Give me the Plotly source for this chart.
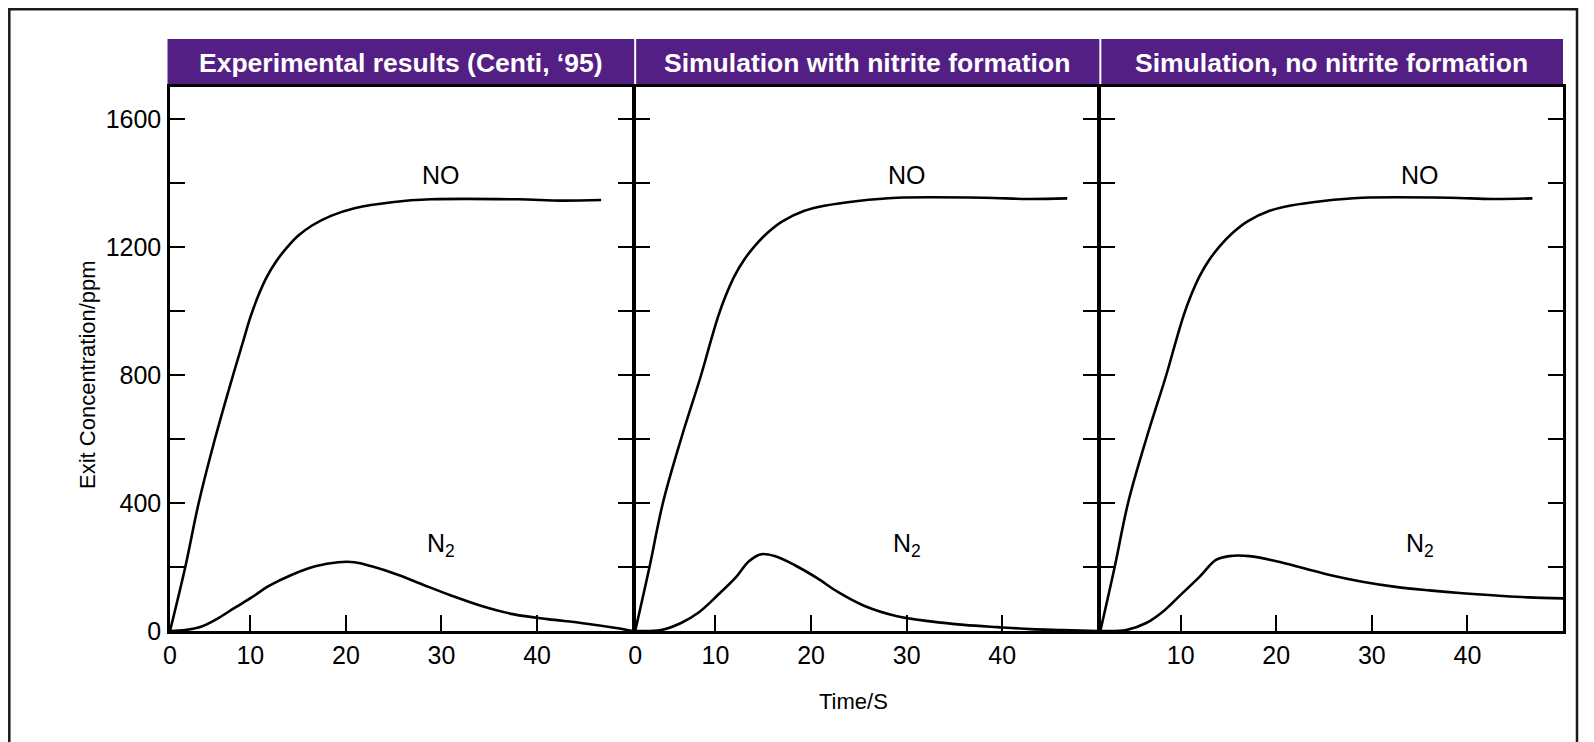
import plotly.graph_objects as go

# ---------------- data ----------------
panel_titles = ["Experimental results (Centi, \u201895)",
                "Simulation with nitrite formation",
                "Simulation, no nitrite formation"]

t_no_1 = [1.6, 3.2, 4.6, 6.3, 8.2, 9.2, 10.0, 10.8, 11.7, 12.7, 13.8, 15.0, 16.5, 18.5, 21.0, 24.8, 28.9, 38.0, 42.5, 46.7]
no_1 = [0, 200, 400, 600, 800, 900, 980, 1045, 1105, 1155, 1197, 1235, 1268, 1298, 1322, 1340, 1349, 1349, 1345, 1347]
t_n2_1 = [1.6, 3.2, 4.9, 6.7, 8.4, 10.1, 11.9, 14.3, 16.8, 19.2, 20.9, 22.7, 25.5, 28.2, 31.0, 34.2, 37.6, 41.1, 44.6, 48.1, 50.0]
n2_1 = [0, 3, 14, 41, 73, 104, 140, 175, 202, 215, 215, 202, 175, 143, 111, 78, 52, 37, 25, 10, 0]

t_no_2 = [1.6, 3.1, 4.5, 6.4, 8.5, 9.5, 10.3, 11.1, 12.0, 13.0, 14.1, 15.4, 17.0, 19.3, 21.4, 24.9, 29.0, 38.1, 42.6, 46.8]
no_2 = [0, 200, 400, 600, 800, 905, 985, 1050, 1110, 1160, 1203, 1243, 1280, 1313, 1329, 1344, 1354, 1354, 1350, 1352]
t_n2_2 = [1.6, 4.3, 6.4, 8.2, 10.2, 12.2, 13.5, 14.8, 16.2, 18.4, 20.6, 22.8, 25.6, 29.0, 32.5, 36.0, 39.5, 43.0, 46.4, 50.0]
n2_2 = [0, 3, 25, 57, 111, 170, 218, 240, 234, 204, 166, 122, 78, 46, 30, 19, 12, 6, 3, 0]

t_no_3 = [1.6, 3.1, 4.5, 6.4, 8.5, 9.5, 10.3, 11.1, 12.0, 13.0, 14.1, 15.4, 17.0, 19.3, 21.4, 24.9, 29.0, 38.1, 42.6, 46.8]
no_3 = [0, 200, 400, 600, 800, 905, 985, 1050, 1110, 1160, 1203, 1243, 1280, 1313, 1329, 1344, 1354, 1354, 1350, 1352]
t_n2_3 = [1.6, 4.3, 6.4, 8.2, 10.0, 12.0, 13.7, 15.1, 17.2, 20.0, 22.8, 25.6, 29.0, 32.5, 36.0, 39.5, 43.0, 46.4, 50.0]
n2_3 = [0, 3, 25, 62, 113, 170, 222, 234, 234, 218, 197, 175, 154, 138, 127, 118, 111, 105, 102]

x_tick_vals_12 = [1.6, 10, 20, 30, 40]
x_tick_text_12 = ["0", "10", "20", "30", "40"]
x_tick_vals_3 = [10, 20, 30, 40]
x_tick_text_3 = ["10", "20", "30", "40"]
y_tick_vals = [0, 200, 400, 600, 800, 1000, 1200, 1400, 1600]
y_tick_text = ["0", "", "400", "", "800", "", "1200", "", "1600"]

label_no_pos = [(30, 1425), (30, 1425), (35, 1425)]
label_n2_pos = [(30, 268), (30, 268), (35, 268)]

# ---------------- layout geometry (page px minus 8px body margin) ----------------
OFF = 8
W_FIG, H_FIG = 1571, 734
L, R, T, B = 170 - OFF, 1563 - OFF, 87 - OFF, 631 - OFF
PW, PH = R - L, B - T
LW = 2.5
FONT = "Liberation Sans, Arial, Helvetica, sans-serif"
PURPLE = "#541f84"


def px_x(px):
    return (px - L) / PW


def px_y(py):
    return (B - py) / PH


fig = go.Figure()

series = [(t_no_1, no_1, t_n2_1, n2_1), (t_no_2, no_2, t_n2_2, n2_2), (t_no_3, no_3, t_n2_3, n2_3)]
for i, (tn, vn, t2, v2) in enumerate(series):
    xa = "x" if i == 0 else f"x{i+1}"
    ya = "y" if i == 0 else f"y{i+1}"
    for tx, vy in ((tn, vn), (t2, v2)):
        fig.add_trace(go.Scatter(x=tx, y=vy, mode="lines", xaxis=xa, yaxis=ya,
                                 line=dict(color="black", width=2.6, shape="spline", smoothing=1.0),
                                 showlegend=False, hoverinfo="skip"))

pw = (PW - 2 * LW) / 3
edges = []
for i in range(3):
    a = i * (pw + LW)
    edges.append((a, a + pw))
domains = [[a / PW, b / PW] for a, b in edges]

layout = dict(width=W_FIG, height=H_FIG,
              margin=dict(l=L, r=W_FIG - R, t=T, b=H_FIG - B, pad=0),
              paper_bgcolor="white", plot_bgcolor="white",
              font=dict(family=FONT, color="black", size=25),
              showlegend=False)

for i in range(3):
    sx = "" if i == 0 else str(i + 1)
    layout["xaxis" + sx] = dict(
        domain=domains[i], range=[1.6, 50], anchor="y" + sx,
        tickmode="array",
        tickvals=x_tick_vals_12 if i < 2 else x_tick_vals_3,
        ticktext=x_tick_text_12 if i < 2 else x_tick_text_3,
        ticks="inside", ticklen=16, tickwidth=2, tickcolor="black",
        showline=True, linewidth=LW, linecolor="black", mirror=True,
        showgrid=False, zeroline=False, ticklabelstandoff=0,
        tickfont=dict(family=FONT, size=25, color="black"))
    layout["yaxis" + sx] = dict(
        domain=[0, 1], range=[0, 1700], anchor="x" + sx,
        tickmode="array", tickvals=y_tick_vals, ticktext=y_tick_text,
        showticklabels=(i == 0),
        ticks="inside", ticklen=15, tickwidth=2, tickcolor="black",
        showline=True, linewidth=LW, linecolor="black", mirror="ticks",
        showgrid=False, zeroline=False, ticklabelstandoff=1,
        tickfont=dict(family=FONT, size=25, color="black"))

fig.update_layout(**layout)

shapes = []
# outer frame
shapes.append(dict(type="rect", xref="paper", yref="paper",
                   x0=px_x(1.3), x1=px_x(W_FIG - 2), y0=px_y(800), y1=px_y(1.3),
                   line=dict(color="#1a1a1a", width=2.5), fillcolor="rgba(0,0,0,0)", layer="below"))
# header bars
for i in range(3):
    a, b = edges[i]
    x0 = L + a - (LW if i == 0 else 0) + (1 if i > 0 else 0)
    x1 = L + b + (LW if i < 2 else 0) - (1 if i < 2 else 0)
    shapes.append(dict(type="rect", xref="paper", yref="paper",
                       x0=px_x(x0), x1=px_x(x1), y0=px_y(T), y1=px_y(39 - OFF),
                       line=dict(width=0), fillcolor=PURPLE, layer="below"))
fig.update_layout(shapes=shapes)

ann = []
for i in range(3):
    a, b = edges[i]
    cx = L + (a + b) / 2
    ann.append(dict(xref="paper", yref="paper", x=px_x(cx), y=px_y(63 - OFF),
                    text="<b>" + panel_titles[i] + "</b>", showarrow=False,
                    xanchor="center", yanchor="middle",
                    font=dict(family=FONT, size=26.5, color="white")))
    sx = "" if i == 0 else str(i + 1)
    ann.append(dict(xref="x" + sx, yref="y" + sx, x=label_no_pos[i][0], y=label_no_pos[i][1],
                    text="NO", showarrow=False, xanchor="center", yanchor="middle",
                    font=dict(family=FONT, size=25, color="black")))
    ann.append(dict(xref="x" + sx, yref="y" + sx, x=label_n2_pos[i][0], y=label_n2_pos[i][1],
                    text="N<sub>2</sub>", showarrow=False, xanchor="center", yanchor="middle",
                    font=dict(family=FONT, size=25, color="black")))

ann.append(dict(xref="paper", yref="paper", x=px_x(87 - OFF), y=px_y(375 - OFF),
                text="Exit Concentration/ppm", textangle=-90, showarrow=False,
                xanchor="center", yanchor="middle",
                font=dict(family=FONT, size=22, color="black")))
ann.append(dict(xref="paper", yref="paper", x=px_x(853 - OFF), y=px_y(701 - OFF),
                text="Time/S", showarrow=False, xanchor="center", yanchor="middle",
                font=dict(family=FONT, size=22, color="black")))
fig.update_layout(annotations=ann)

fig.write_html("out.html")
